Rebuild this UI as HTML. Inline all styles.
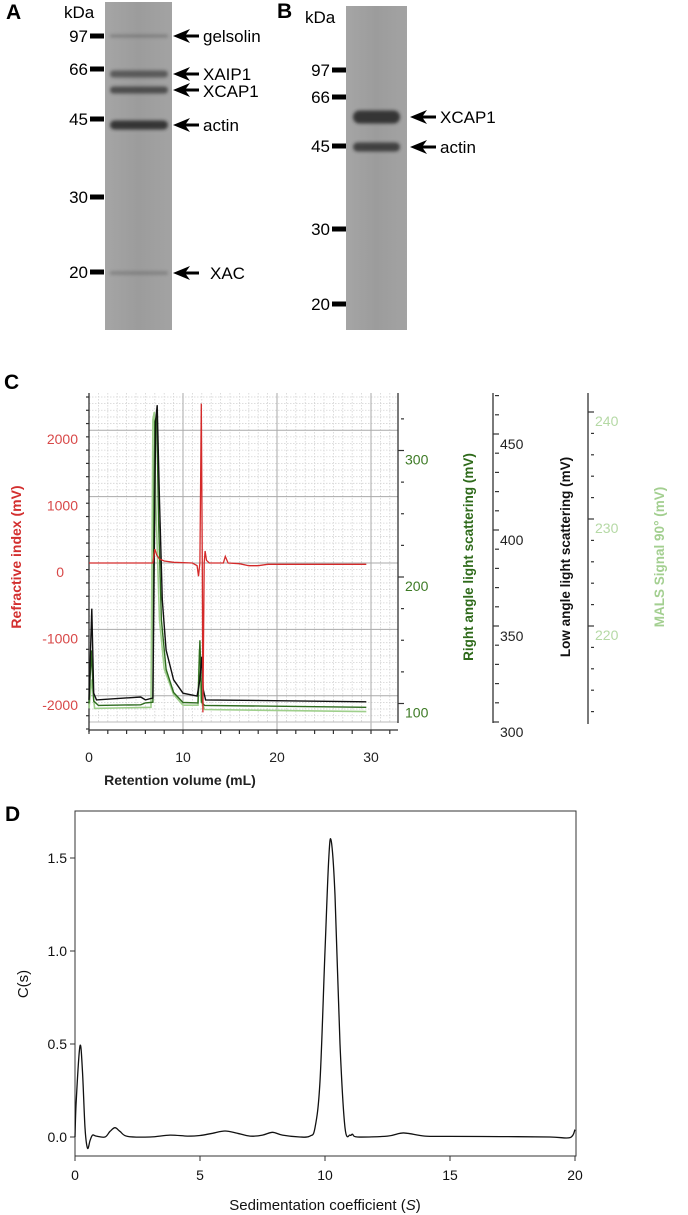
<!DOCTYPE html>
<html><head><meta charset="utf-8"><style>
html,body{margin:0;padding:0;background:#fff;}
svg{display:block;font-family:"Liberation Sans",Arial,sans-serif;}
</style></head><body>
<svg id="fig" width="688" height="1215" viewBox="0 0 688 1215" xmlns="http://www.w3.org/2000/svg">
<defs>
<filter id="blur1" x="-20%" y="-150%" width="140%" height="400%"><feGaussianBlur stdDeviation="1.6"/></filter>
<linearGradient id="gelg" x1="0" x2="1" y1="0" y2="0"><stop offset="0" stop-color="#a5a5a5"/><stop offset="0.5" stop-color="#9c9c9c"/><stop offset="1" stop-color="#a3a3a3"/></linearGradient>
</defs>

<g>
<text x="6" y="19" font-size="21" font-weight="bold">A</text>
<text x="64" y="18" font-size="17">kDa</text>
<rect x="105" y="2" width="67" height="328" fill="url(#gelg)"/>
<g id="gelA"></g>
</g>
<g>
<text x="277" y="18" font-size="21" font-weight="bold">B</text>
<text x="305" y="23" font-size="17">kDa</text>
<rect x="346" y="6" width="61" height="324" fill="url(#gelg)"/>
<g id="gelB"></g>
</g>

<g id="panelC">
<text x="4" y="389" font-size="21" font-weight="bold">C</text>
<g id="cGrid"></g>
<g id="cAxes"></g>
<g id="cSeries"></g>
<text x="180" y="785" font-size="14" font-weight="bold" text-anchor="middle" fill="#222">Retention volume (mL)</text>
<text transform="translate(21,557) rotate(-90)" font-size="14" font-weight="bold" text-anchor="middle" fill="#d32f2f">Refractive index (mV)</text>
<text transform="translate(473,557) rotate(-90)" font-size="13.5" font-weight="bold" text-anchor="middle" fill="#2e6a1a">Right angle light scattering (mV)</text>
<text transform="translate(570,557) rotate(-90)" font-size="13.5" font-weight="bold" text-anchor="middle" fill="#111">Low angle light scattering (mV)</text>
<text transform="translate(664,557) rotate(-90)" font-size="13.5" font-weight="bold" text-anchor="middle" fill="#a3cf90">MALS Signal 90° (mV)</text>
</g>

<g id="panelD">
<text x="5" y="821" font-size="21" font-weight="bold">D</text>
<rect x="75" y="811" width="501" height="345" fill="none" stroke="#333" stroke-width="1"/>
<g id="dAxes"></g>
<g id="dSeries"></g>
<text transform="translate(28,984) rotate(-90)" font-size="15" text-anchor="middle" fill="#111">C(s)</text>
<text x="325" y="1210" font-size="15" text-anchor="middle" fill="#111">Sedimentation coefficient (<tspan font-style="italic">S</tspan>)</text>
</g>
</svg>
<script>
const gelAMarkers = ["97","66","45","30","20"];
const gelAMarkerY = [36,69,119,197,272];
const gelABandNames = ["gelsolin","XAIP1","XCAP1","actin","XAC"];
const gelABandY = [36,74,90,125,273];
const gelABandLabelY = [36,74,91,125,273];
const gelABandIntensity = [0.35,0.6,0.7,0.9,0.3];
const gelBMarkers = ["97","66","45","30","20"];
const gelBMarkerY = [70,97,146,229,304];
const gelBBandNames = ["XCAP1","actin"];
const gelBBandY = [117,147];
const gelBBandIntensity = [0.9,0.8];

const cXTicks = [0,10,20,30];
const riTicks = [2000,1000,0,-1000,-2000];
const ralsTicks = [300,200,100];
const lalsTicks = [450,400,350,300];
const malsTicks = [240,230,220];
const riX = [0,6.8,7.0,7.2,7.5,8,9,11,11.5,11.65,11.8,11.95,12.05,12.12,12.25,12.35,12.5,12.8,14.3,14.5,14.8,16,17,18,19,29.5];
const riY = [0,0,210,120,60,30,10,0,-40,-200,0,2400,0,-2250,0,180,40,0,0,100,0,-10,-40,-40,-20,-20];
const ralsX = [0,0.25,0.5,1,5.5,6,6.8,6.9,7.0,7.2,7.4,7.7,8.2,9,10,11.6,11.8,12.0,12.3,29.5];
const ralsY = [100,142,102,98.5,99,100.5,101,260,323,327,245,166,127,108.7,100.8,100.5,150,101,98.5,97];
const lalsX = [0,0.3,0.5,0.8,5.5,6,6.8,7.0,7.1,7.25,7.5,7.8,8.2,9,10,11.5,11.8,12.0,12.15,12.4,29.5];
const lalsY = [311.5,359,315,311.5,313,311.5,312.5,415,457,465,415,363.5,337.5,322,315,313.5,322,334,317,311.5,310.5];
const malsX = [0,0.3,0.6,6.6,6.8,6.95,7.1,7.5,8,9,10,11.6,11.75,11.9,12.3,29.5];
const malsY = [212.3,215,212.3,212.4,239.3,240,231.8,220.6,216,213.6,212.6,212.6,217.8,213,212.2,212];

const dXTicks = [0,5,10,15,20];
const dYTicks = [0.0,0.5,1.0,1.5];
const dYTickLabels = ["0.0","0.5","1.0","1.5"];
const csX = [0,0.05,0.2,0.3,0.4,0.5,0.6,0.7,0.85,1.2,1.4,1.6,1.8,2.1,3,3.8,4.5,5,5.5,6,6.5,7,7.5,7.9,8.3,9,9.4,9.6,9.8,10,10.15,10.25,10.4,10.6,10.8,11,11.1,11.3,12.5,13,13.3,14,15,17,19,19.8,20];
const csY = [0,0.2,0.49,0.35,0.05,-0.06,-0.02,0.01,0.005,0,0.03,0.05,0.03,0.003,0,0.01,0.005,0.008,0.02,0.032,0.02,0.005,0.01,0.025,0.01,0,0.005,0.05,0.3,1.0,1.5,1.59,1.3,0.5,0.05,0.01,0.015,0,0.005,0.02,0.02,0.005,0.003,0.002,0,-0.003,0.04];

const NS = "http://www.w3.org/2000/svg";
function mk(tag, parent, attrs){const e=document.createElementNS(NS,tag);for(const k in attrs)e.setAttribute(k,attrs[k]);parent.appendChild(e);return e;}
function arrow(parent, tip, y){
  const g = mk('g', parent, {});
  
  
  mk('path', g, {d:`M${tip} ${y} L${tip+17} ${y-7} L${tip+12} ${y} L${tip+17} ${y+7} Z`, fill:'#000'});
  mk('rect', g, {x:tip+8, y:y-1.5, width:18, height:3, fill:'#000'});
}
function drawGel(parent, markers, markerY, barX, labelX, bandY, bandInt, bx, bw, bh){
  markers.forEach((m,i)=>{
    const r = mk('rect', parent, {x:barX, y:markerY[i]-2.5, width:14, height:5, fill:'#000'});
    
    
    const t = mk('text', parent, {x:labelX, y:markerY[i]+6, 'font-size':17, 'text-anchor':'end'});
    
    
    t.textContent = m;
  });
  bandY.forEach((y,i)=>{
    const h = bh[i];
    const e = mk('rect', parent, {x:bx, y:y-h/2, width:bw, height:h, rx:h/2, fill:'#2a2a2a', opacity:bandInt[i], filter:'url(#blur1)'});
    
    
  });
}
const gA = document.getElementById('gelA');
drawGel(gA, gelAMarkers, gelAMarkerY, 90, 88, gelABandY, gelABandIntensity, 110, 58, [2.5,7,7,9,3]);
gelABandNames.forEach((n,i)=>{
  arrow(gA, 173, gelABandY[i]);
  const t = mk('text', gA, {x: n==='XAC'?210:203, y:gelABandLabelY[i]+6, 'font-size':17});
  
  
  t.textContent = n;
});
const gB = document.getElementById('gelB');
drawGel(gB, gelBMarkers, gelBMarkerY, 332, 330, gelBBandY, gelBBandIntensity, 353, 47, [13,9]);
gelBBandNames.forEach((n,i)=>{
  arrow(gB, 410, gelBBandY[i]);
  const t = mk('text', gB, {x:440, y:gelBBandY[i]+6, 'font-size':17});
  
  
  t.textContent = n;
});

const cL=89, cR=398, cT=393, cB=730;
const xC = v => cL + 9.4*v;
const yRI = v => 563 - v*0.0664;
const yRALS = v => 577 - (v-200)*1.265;
const yLALS = v => 530 - (v-400)*1.92;
const yMALS = v => 519 - (v-230)*10.7;
const grid = document.getElementById('cGrid');
const bg = mk('rect', grid, {x:cL, y:cT, width:cR-cL, height:cB-cT, fill:'#fff'});


for(let v=1; xC(v)<cR; v++){ if(v%10) mk('line', grid, {x1:xC(v), x2:xC(v), y1:cT, y2:cB-8, stroke:'#d4d4d4', 'stroke-dasharray':'1.5 1.5', 'stroke-width':0.8}); }
for(let v=-2500; v<=2600; v+=100){ if(v%1000 && yRI(v)>cT && yRI(v)<cB-8) mk('line', grid, {x1:cL, x2:cR, y1:yRI(v), y2:yRI(v), stroke:'#d4d4d4', 'stroke-dasharray':'1.5 1.5', 'stroke-width':0.8}); }
[10,20,30].forEach(v=>mk('line', grid, {x1:xC(v), x2:xC(v), y1:cT, y2:cB, stroke:'#aaa', 'stroke-width':1}));
riTicks.forEach(v=>mk('line', grid, {x1:cL, x2:cR, y1:yRI(v), y2:yRI(v), stroke:'#aaa', 'stroke-width':1}));
mk('line', grid, {x1:cL, x2:cR, y1:cB-8, y2:cB-8, stroke:'#bbb', 'stroke-width':1});

const ax = document.getElementById('cAxes');
mk('line', ax, {x1:cL, x2:cL, y1:cT, y2:cB+2, stroke:'#333', 'stroke-width':1.3});
mk('line', ax, {x1:cL, x2:cR, y1:cB, y2:cB, stroke:'#333', 'stroke-width':1.3});
for(let v=-2500; v<=2600; v+=200){ if(yRI(v)>cT && yRI(v)<cB) mk('line', ax, {x1:cL-3, x2:cL, y1:yRI(v), y2:yRI(v), stroke:'#333', 'stroke-width':1.2}); }
for(let v=0; xC(v)<=cR; v+=2){ mk('line', ax, {x1:xC(v), x2:xC(v), y1:cB, y2:cB+4, stroke:'#333', 'stroke-width':1.2}); }
cXTicks.forEach(v=>{
  const t = mk('text', ax, {x:xC(v), y:762, 'font-size':14, 'text-anchor':'middle', fill:'#222'});
  
  
  t.textContent = v;
});
riTicks.forEach(v=>{
  const t = mk('text', ax, {x:v===0?64:78, y:yRI(v)+14, 'font-size':14, 'text-anchor':'end', fill:'#d84848'});
  
  
  t.textContent = v;
});
mk('line', ax, {x1:398, x2:398, y1:cT, y2:723, stroke:'#333', 'stroke-width':1.3});
for(let v=75; v<=340; v+=25){ const y=yRALS(v); if(y>cT && y<724){ mk('line', ax, {x1:v%100?401:398, x2:404, y1:y, y2:y, stroke:'#333', 'stroke-width':1.2}); } }
ralsTicks.forEach(v=>{
  const t = mk('text', ax, {x:405, y:yRALS(v)+14, 'font-size':14, fill:'#3d7a25'});
  
  
  t.textContent = v;
});
mk('line', ax, {x1:493, x2:493, y1:cT, y2:723, stroke:'#333', 'stroke-width':1.3});
for(let v=300; v<=470; v+=10){ const y=yLALS(v); if(y>cT-1 && y<724){ mk('line', ax, {x1:v%50?495:493, x2:499, y1:y, y2:y, stroke:'#333', 'stroke-width':1.2}); } }
lalsTicks.forEach(v=>{
  const t = mk('text', ax, {x:500, y:yLALS(v)+15, 'font-size':14, fill:'#222'});
  
  
  t.textContent = v;
});
mk('line', ax, {x1:588, x2:588, y1:cT, y2:724, stroke:'#333', 'stroke-width':1.3});
for(let v=212; v<=242; v+=2){ const y=yMALS(v); if(y>cT && y<724){ mk('line', ax, {x1:v%10?591:588, x2:594, y1:y, y2:y, stroke:'#333', 'stroke-width':1.2}); } }
malsTicks.forEach(v=>{
  const t = mk('text', ax, {x:595, y:yMALS(v)+14, 'font-size':14, fill:'#b5d9a5'});
  
  
  t.textContent = v;
});

function poly(xs, ys, fx, fy){ return xs.map((x,i)=>`${fx(x).toFixed(1)},${fy(ys[i]).toFixed(1)}`).join(' '); }
const cs = document.getElementById('cSeries');
const sM = mk('polyline', cs, {points:poly(malsX,malsY,xC,yMALS), fill:'none', stroke:'#9fcf8c', 'stroke-width':1.6});


const sR = mk('polyline', cs, {points:poly(ralsX,ralsY,xC,yRALS), fill:'none', stroke:'#2e6b1e', 'stroke-width':1.4});


const sL = mk('polyline', cs, {points:poly(lalsX,lalsY,xC,yLALS), fill:'none', stroke:'#111', 'stroke-width':1.4});


const sRI = mk('polyline', cs, {points:poly(riX,riY,xC,yRI), fill:'none', stroke:'#d42a2a', 'stroke-width':1.3});



const xD = s => 75 + 25*s;
const yD = c => 1137 - 186*c;
const da = document.getElementById('dAxes');
dXTicks.forEach(v=>{
  mk('line', da, {x1:xD(v), x2:xD(v), y1:1156, y2:1161, stroke:'#333'});
  const t = mk('text', da, {x:xD(v), y:1180, 'font-size':14, 'text-anchor':'middle', fill:'#111'});
  
  
  t.textContent = v;
});
dYTicks.forEach((v,i)=>{
  mk('line', da, {x1:70, x2:75, y1:yD(v), y2:yD(v), stroke:'#333'});
  const t = mk('text', da, {x:67, y:yD(v)+5, 'font-size':14, 'text-anchor':'end', fill:'#111'});
  
  
  t.textContent = dYTickLabels[i];
});
function smoothPath(xs, ys, fx, fy){
  const P = xs.map((x,i)=>[fx(x), fy(ys[i])]);
  let d = `M${P[0][0].toFixed(1)},${P[0][1].toFixed(1)}`;
  for(let i=0;i<P.length-1;i++){
    const p0=P[Math.max(0,i-1)], p1=P[i], p2=P[i+1], p3=P[Math.min(P.length-1,i+2)];
    const c1=[p1[0]+(p2[0]-p0[0])/6, p1[1]+(p2[1]-p0[1])/6];
    const c2=[p2[0]-(p3[0]-p1[0])/6, p2[1]-(p3[1]-p1[1])/6];
    d += ` C${c1[0].toFixed(1)},${c1[1].toFixed(1)} ${c2[0].toFixed(1)},${c2[1].toFixed(1)} ${p2[0].toFixed(1)},${p2[1].toFixed(1)}`;
  }
  return d;
}
const ds = document.getElementById('dSeries');
const cl = mk('path', ds, {d:smoothPath(csX,csY,xD,yD), fill:'none', stroke:'#111', 'stroke-width':1.3});


</script>
</body></html>
